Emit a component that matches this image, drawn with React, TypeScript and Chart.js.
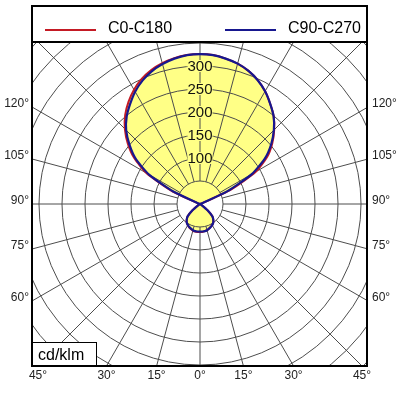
import { useEffect, useRef } from "react"
import { Chart, registerables } from "chart.js"

Chart.register(...registerables)

// gamma angle in degrees, 0 = straight down (nadir), 180 = straight up
const gammaDeg = [
  0, 5, 10, 15, 20, 25, 30, 35, 40, 45, 50, 55, 60, 65, 70, 75, 80, 85, 90,
  95, 100, 105, 110, 115, 120, 125, 130, 135, 140, 145, 150, 155, 160, 165, 170, 175, 180,
]

// luminous intensity, cd/klm (right half / left half of each plane)
const c0 = [
  61, 61, 60, 59, 57, 55, 53, 50, 45, 38, 22, 5, 0, 0, 0, 0, 0, 0, 0,
  0, 0, 1, 7, 75, 140, 178, 205, 228, 249, 266, 283, 297, 308, 316, 321, 325, 326,
]
const c180 = [
  61, 61, 61, 60, 58, 56, 53, 50, 45, 38, 22, 5, 0, 0, 0, 0, 0, 0, 0,
  0, 0, 1, 6, 68, 134, 175, 205, 231, 253, 271, 287, 300, 310, 317, 322, 325, 326,
]
const c90 = [
  60, 60, 60, 59, 57, 55, 53, 50, 45, 38, 22, 5, 0, 0, 0, 0, 0, 0, 0,
  0, 0, 1, 5, 65, 130, 172, 202, 227, 249, 266, 283, 297, 308, 316, 321, 325, 326,
]
const c270 = [
  60, 60, 60, 59, 57, 55, 53, 50, 45, 38, 22, 5, 0, 0, 0, 0, 0, 0, 0,
  0, 0, 1, 5, 64, 128, 170, 200, 227, 248, 265, 282, 296, 307, 315, 321, 325, 326,
]

const seriesNames = ["C0-C180", "C90-C270"]
const ringValues = [50, 100, 150, 200, 250, 300, 350, 400, 450, 500, 550]
const ringLabels = [100, 150, 200, 250, 300]
const spokeAngles = [0, 15, 30, 45, 60, 75, 90, 105, 120, 135, 150, 165, 180, 195, 210, 225, 240, 255, 270, 285, 300, 315, 330, 345]
const sideAngles = [60, 75, 90, 105, 120]
const bottomAngles = [45, 30, 15, 0, 15, 30, 45]
const unitLabel = "cd/klm"

const RED = "#c41a24"
const BLUE = "#17178f"
const FILL = "#ffff86"
const GRID = "#4d4d4d"
const FONT = "'Liberation Sans', Arial, sans-serif"

function toPoints(right: number[], left: number[]) {
  const pts: { x: number; y: number }[] = []
  gammaDeg.forEach((g, i) => {
    const a = (g * Math.PI) / 180
    pts.push({ x: right[i] * Math.sin(a), y: -right[i] * Math.cos(a) })
  })
  for (let i = gammaDeg.length - 2; i >= 0; i--) {
    const a = (gammaDeg[i] * Math.PI) / 180
    pts.push({ x: -left[i] * Math.sin(a), y: -left[i] * Math.cos(a) })
  }
  return pts
}

export default function App() {
  const canvasRef = useRef<HTMLCanvasElement>(null)
  const chartRef = useRef<Chart | null>(null)

  useEffect(() => {
    if (!canvasRef.current) return
    if (chartRef.current) chartRef.current.destroy()

    const polarGrid = {
      id: "polarGrid",
      beforeDatasetsDraw(chart: any) {
        const { ctx, chartArea: a, scales } = chart
        const cx = scales.x.getPixelForValue(0)
        const cy = scales.y.getPixelForValue(0)
        const k = scales.x.getPixelForValue(1) - cx
        ctx.save()
        ctx.beginPath()
        ctx.rect(a.left, a.top, a.right - a.left, a.bottom - a.top)
        ctx.clip()
        ctx.strokeStyle = GRID
        ctx.lineWidth = 1
        ringValues.forEach((r) => {
          ctx.beginPath()
          ctx.arc(cx, cy, r * k, 0, Math.PI * 2)
          ctx.stroke()
        })
        const inner = ringValues[0] * k
        spokeAngles.forEach((g) => {
          const rad = (g * Math.PI) / 180
          const dx = Math.sin(rad)
          const dy = Math.cos(rad)
          ctx.beginPath()
          ctx.moveTo(cx + dx * inner, cy + dy * inner)
          ctx.lineTo(cx + dx * 900, cy + dy * 900)
          ctx.stroke()
        })
        // intensity labels on the vertical axis
        ctx.font = `15px ${FONT}`
        ctx.textAlign = "center"
        ctx.textBaseline = "middle"
        ringLabels.forEach((v) => {
          const y = scales.y.getPixelForValue(v)
          const w = ctx.measureText(String(v)).width
          ctx.fillStyle = FILL
          ctx.fillRect(cx - w / 2, y - 6, w, 12)
          ctx.fillStyle = "#111"
          ctx.fillText(String(v), cx, y + 1)
        })
        ctx.restore()
      },
      afterDraw(chart: any) {
        const { ctx, chartArea: a, scales } = chart
        const cx = scales.x.getPixelForValue(0)
        const cy = scales.y.getPixelForValue(0)
        ctx.save()

        // unit box
        ctx.fillStyle = "#fff"
        ctx.fillRect(a.left, a.bottom - 24, 65, 24)
        ctx.strokeStyle = "#000"
        ctx.lineWidth = 1
        ctx.strokeRect(a.left + 0.5, a.bottom - 23.5, 64, 24)
        ctx.fillStyle = "#000"
        ctx.font = `16px ${FONT}`
        ctx.textAlign = "left"
        ctx.textBaseline = "alphabetic"
        ctx.fillText(unitLabel, a.left + 6, a.bottom - 6)

        // outer frame + legend strip
        ctx.lineWidth = 2
        ctx.strokeRect(a.left, 6, a.right - a.left, a.bottom - 6)
        ctx.beginPath()
        ctx.moveTo(a.left, a.top)
        ctx.lineTo(a.right, a.top)
        ctx.stroke()

        const legendX = [a.left + 13, a.left + 193]
        chart.data.datasets.forEach((ds: any, i: number) => {
          const x0 = legendX[i]
          ctx.strokeStyle = ds.borderColor
          ctx.lineWidth = 2
          ctx.beginPath()
          ctx.moveTo(x0, 30)
          ctx.lineTo(x0 + 51, 30)
          ctx.stroke()
          ctx.fillStyle = "#000"
          ctx.font = `16px ${FONT}`
          ctx.textAlign = "left"
          ctx.fillText(ds.label, x0 + 63, 33)
        })

        // angle labels
        ctx.fillStyle = "#222"
        ctx.font = `12px ${FONT}`
        ctx.textBaseline = "alphabetic"
        sideAngles.forEach((g) => {
          const rad = (g * Math.PI) / 180
          const y = cy + ((cx - a.left) * Math.cos(rad)) / Math.sin(rad)
          ctx.textAlign = "right"
          ctx.fillText(`${g}°`, a.left - 3, y)
          ctx.textAlign = "left"
          ctx.fillText(`${g}°`, a.right + 5, y)
        })
        ctx.textAlign = "center"
        bottomAngles.forEach((g, i) => {
          const side = i < bottomAngles.length / 2 - 0.5 ? -1 : 1
          const x = cx + side * (a.bottom - cy) * Math.tan((g * Math.PI) / 180)
          ctx.fillText(`${g}°`, x, a.bottom + 13)
        })
        ctx.restore()
      },
    }

    chartRef.current = new Chart(canvasRef.current, {
      type: "scatter",
      data: {
        datasets: [
          {
            label: seriesNames[0],
            data: toPoints(c0, c180),
            showLine: true,
            borderColor: RED,
            backgroundColor: FILL,
            borderWidth: 2,
            pointRadius: 0,
            tension: 0.2,
            fill: "shape",
            order: 1,
          },
          {
            label: seriesNames[1],
            data: toPoints(c90, c270),
            showLine: true,
            borderColor: BLUE,
            backgroundColor: FILL,
            borderWidth: 2.2,
            pointRadius: 0,
            tension: 0.2,
            fill: false,
            order: 0,
          },
        ],
      },
      options: {
        animation: false,
        responsive: true,
        maintainAspectRatio: false,
        layout: { padding: { left: 32, right: 33, top: 42, bottom: 34 } },
        scales: {
          x: { type: "linear", min: -365.2, max: 363.0, display: false },
          y: { type: "linear", min: -352.2, max: 352.2, display: false },
        },
        plugins: {
          legend: { display: false },
          tooltip: { enabled: false },
          filler: { drawTime: "beforeDraw" },
        },
      },
      plugins: [polarGrid],
    })

    return () => {
      if (chartRef.current) {
        chartRef.current.destroy()
        chartRef.current = null
      }
    }
  }, [])

  return (
    <div style={{ position: "absolute", left: 0, top: 0, width: 400, height: 400, background: "#fff" }}>
      <canvas ref={canvasRef} aria-label="Polar luminous intensity diagram"></canvas>
    </div>
  )
}
